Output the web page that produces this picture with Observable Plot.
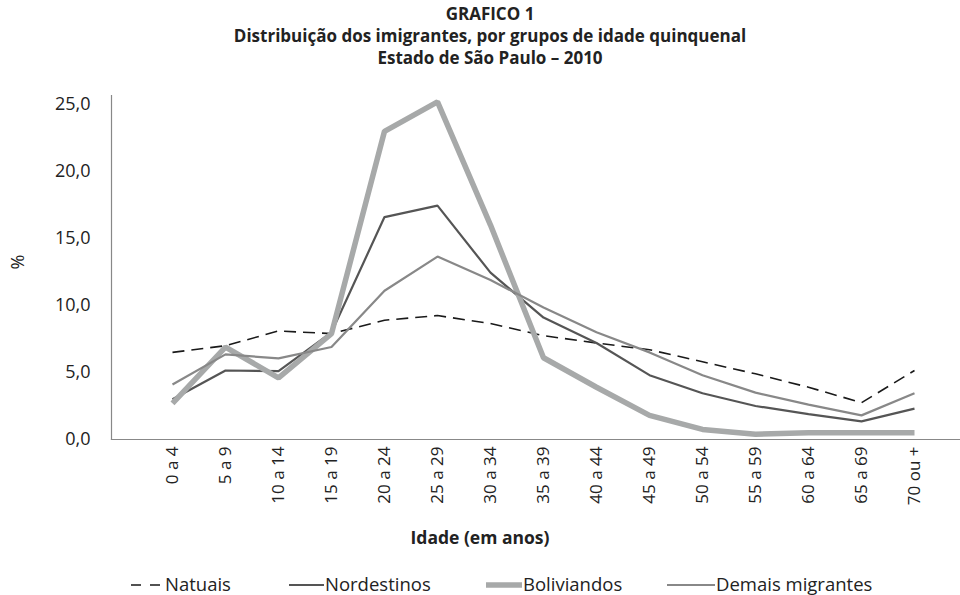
<!DOCTYPE html>
<html>
<head>
<meta charset="utf-8">
<script src="https://cdn.jsdelivr.net/npm/d3@7"></script>
<script src="https://cdn.jsdelivr.net/npm/@observablehq/plot@0.6"></script>
<style>
  html, body { margin: 0; padding: 0; background: #fff; }
  body { width: 960px; height: 595px; position: relative; overflow: hidden; font-family: "Open Sans", Lato, sans-serif; color: #222; }
  #title { height: 72px; box-sizing: border-box; padding-top: 3px; padding-left: 20px; text-align: center; font-weight: bold; font-size: 17px; line-height: 22px; }
  #title div { height: 22px; }
  #legend { position: absolute; left: 0; top: 571px; width: 960px; height: 24px; font-size: 18.5px; }
  .item { position: absolute; top: 0; display: flex; align-items: center; white-space: nowrap; }
  .item svg { margin-right: 1px; }
</style>
</head>
<body>
<div id="title"><div>GRAFICO 1</div><div>Distribuição dos imigrantes, por grupos de idade quinquenal</div><div>Estado de São Paulo – 2010</div></div>
<div id="chart"></div>
<div id="legend"></div>
<script>
const categories = ["0 a 4","5 a 9","10 a 14","15 a 19","20 a 24","25 a 29","30 a 34","35 a 39","40 a 44","45 a 49","50 a 54","55 a 59","60 a 64","65 a 69","70 ou +"];
const natuais     = [6.5, 7.0, 8.1, 7.9, 8.9, 9.25, 8.65, 7.75, 7.2, 6.7, 5.8, 4.9, 3.9, 2.75, 5.15];
const nordestinos = [3.0, 5.15, 5.1, 8.0, 16.6, 17.45, 12.45, 9.1, 7.2, 4.8, 3.45, 2.5, 1.9, 1.35, 2.3];
const bolivianos  = [2.7, 6.9, 4.6, 7.9, 23.0, 25.2, 16.0, 6.1, 3.9, 1.8, 0.75, 0.4, 0.5, 0.5, 0.5];
const demais      = [4.1, 6.35, 6.05, 6.9, 11.1, 13.65, 11.9, 9.85, 8.0, 6.5, 4.8, 3.5, 2.6, 1.8, 3.45];
const yTicks = [0, 5, 10, 15, 20, 25];
const seriesNames = ["Natuais", "Nordestinos", "Boliviandos", "Demais migrantes"];

const styles = {
  "Natuais":          {stroke: "#1a1a1a", strokeWidth: 1.6, strokeDasharray: "12,7"},
  "Nordestinos":      {stroke: "#555555", strokeWidth: 2.2},
  "Boliviandos":      {stroke: "#a7a9a9", strokeWidth: 5.5},
  "Demais migrantes": {stroke: "#888888", strokeWidth: 2.2}
};
const seriesValues = [natuais, nordestinos, bolivianos, demais];

const fmt = d => d.toFixed(1).replace(".", ",");

const chart = Plot.plot({
  width: 960,
  height: 480,
  marginTop: 23,
  marginBottom: 113,
  marginLeft: 111,
  marginRight: 0,
  style: {fontFamily: "'Open Sans', Lato, sans-serif", color: "#222", background: "transparent"},
  x: {type: "point", domain: categories, range: [143, 942]},
  y: {domain: [0, 25], range: [367, 32]},
  marks: [
    Plot.frame({anchor: "left", stroke: "#888", strokeWidth: 1.2}),
    Plot.frame({anchor: "bottom", stroke: "#888", strokeWidth: 1.2}),
    Plot.axisY({ticks: yTicks, tickFormat: fmt, tickSize: 0, tickPadding: 21, fontSize: 18, letterSpacing: 0.6, label: null}),
    Plot.axisX({tickSize: 0, tickRotate: -90, tickPadding: 7, fontSize: 17, label: null}),
    Plot.text(["%"], {frameAnchor: "left", dx: -93, dy: 2, rotate: -90, fontSize: 18}),
    Plot.text(["Idade (em anos)"], {frameAnchor: "bottom", dx: -56, dy: 104, fontSize: 17.5, fontWeight: "bold"}),
    ...seriesNames.map((name, i) => Plot.lineY(seriesValues[i], {
      x: categories,
      y: d => d,
      ...styles[name],
      strokeLinejoin: "miter",
      strokeLinecap: "butt"
    }))
  ]
});
document.getElementById("chart").appendChild(chart);

// legend
const legendPos = [
  {name: "Natuais", left: 131, w: 33},
  {name: "Nordestinos", left: 289, w: 35},
  {name: "Boliviandos", left: 486, w: 36},
  {name: "Demais migrantes", left: 667, w: 48}
];
const legend = document.getElementById("legend");
legendPos.forEach(p => {
  const s = styles[p.name];
  const item = document.createElement("div");
  item.className = "item";
  item.style.left = p.left + "px";
  const sw = d3.create("svg").attr("width", p.w).attr("height", 14);
  sw.append("line").attr("x1", 0).attr("x2", p.w).attr("y1", 8).attr("y2", 8)
    .attr("stroke", s.stroke).attr("stroke-width", s.strokeWidth)
    .attr("stroke-dasharray", p.name === "Natuais" ? "10,9" : null)
    .attr("stroke-linecap", p.name === "Boliviandos" ? "round" : "butt");
  item.appendChild(sw.node());
  const t = document.createElement("span");
  t.textContent = p.name;
  item.appendChild(t);
  legend.appendChild(item);
});
</script>
</body>
</html>
